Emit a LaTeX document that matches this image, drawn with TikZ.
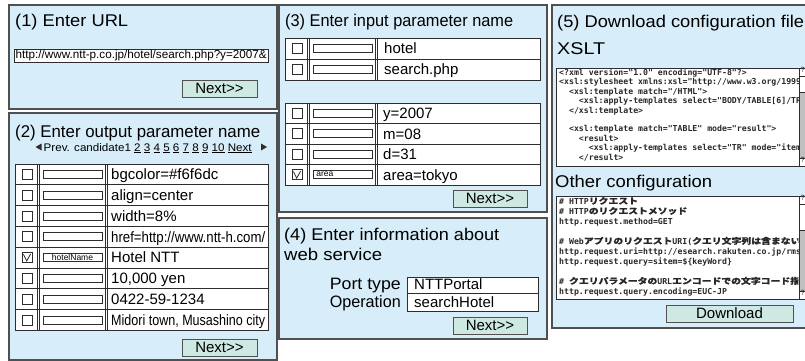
\documentclass[tikz,border=0pt]{standalone}
\usepackage{fontspec}
\usepackage{graphicx}
\setmainfont{Liberation Sans}
\setmonofont{DejaVu Sans Mono}
\newfontfamily\jpfont[FakeStretch=1.2,FakeBold=0.4]{Noto Sans CJK JP}
\newcommand\jtxt[1]{{\jpfont #1}}
\newcommand\setfs[1]{\fontsize{#1}{#1}\selectfont}
\newcommand\wfit[2]{\resizebox{#1pt}{\height}{#2}}
\newcommand\nextlabel{Next>{}>}

\definecolor{panelbg}{RGB}{215,237,249}
\definecolor{panelline}{RGB}{80,80,80}
\definecolor{btnbg}{RGB}{205,233,225}
\definecolor{gridline}{RGB}{45,45,45}
\definecolor{codeink}{RGB}{40,40,40}
\definecolor{scrollgray}{RGB}{192,192,192}

\tikzset{
  panel/.style={draw=panelline, line width=1.3pt, fill=panelbg},
  heading/.style={anchor=base west, inner sep=0, font=\setfs{17}},
  btn/.style={draw=panelline, line width=1pt, fill=btnbg, inner sep=0, font=\setfs{15}, minimum height=17},
  gridln/.style={draw=gridline, line width=0.9pt},
  cbox/.style={draw=gridline, line width=0.8pt, fill=white, minimum size=10, inner sep=0},
  pfield/.style={draw=gridline, line width=0.8pt, fill=white, minimum width=59, minimum height=8, inner sep=0},
  celltext/.style={anchor=base west, inner sep=0, font=\setfs{15}},
  wfield/.style={draw=gridline, line width=0.9pt, fill=white, inner sep=0, anchor=north west},
  label/.style={anchor=base east, inner sep=0, font=\setfs{16.5}},
  code/.style={anchor=base west, inner sep=0, text=codeink, font=\ttfamily\bfseries\setfs{8.2}},
  chk/.style={draw=gridline, line width=0.8pt},
  scrollq/.style={anchor=north west, inner sep=0, font=\setfs{7.5}, text=gridline},
}

% parameter table grid: left, top, width, row height, rows
\newcommand\paramgrid[5]{%
  \pgfmathsetmacro\gridbot{#2+#4*#5}%
  \pgfmathsetmacro\gridright{#1+#3}%
  \draw[gridln, fill=white] (#1,#2) rectangle (\gridright,\gridbot);
  \foreach \k in {1,...,#5}{\ifnum\k<#5 \draw[gridln] (#1,{#2+#4*\k}) -- (\gridright,{#2+#4*\k});\fi}
  \foreach \dx in {22.5,24.5,90.5,92.5}{\draw[gridln] ({#1+\dx},#2) -- ({#1+\dx},\gridbot);}
}
% one table row: left, row top, row height, id, value text, value indent
\newcommand\paramrow[6]{%
  \pgfmathsetmacro\rowmid{#2+#3/2}%
  \node[cbox] (box#4) at ({#1+12},\rowmid) {};
  \node[pfield] (fld#4) at ({#1+57.5},\rowmid) {};
  \node[celltext] (val#4) at ({#1+#6},{\rowmid+5.3}) {#5};
}
\newcommand\tickmark[1]{%
  \draw[chk] ([shift={(-3.6,-3.2)}]#1.center) -- ([shift={(-0.3,3.4)}]#1.center) -- ([shift={(3.6,-3.6)}]#1.center);}
\newcommand\codeln[3]{\node[code] (#1) at (559,#2) {#3};}

\begin{document}
\begin{tikzpicture}[x=1pt,y=-1pt]
\useasboundingbox (0,0) rectangle (805,361);
\clip (0,0) rectangle (805,361);
\fill[white] (0,0) rectangle (805,361);

% ---------- (1) URL
\draw[panel] (9,5) rectangle (277,109);
\node[heading] (h1) at (15,27) {\wfit{113}{(1) Enter URL}};
\node[wfield, minimum width=254, minimum height=13] (urlbox) at (14,49) {};
\node[anchor=base west, inner sep=0, font=\setfs{11.7}] (urltext) at (15.5,59)
  {\wfit{251}{http://www.ntt-p.co.jp/hotel/search.php?y=2007\&}};
\node[btn, minimum width=75] (next1) at (219.5,88.5) {\nextlabel};

% ---------- (2) output parameters
\draw[panel] (9,113) rectangle (277,360);
\node[heading] (h2) at (15,137) {\wfit{245}{(2) Enter output parameter name}};
\fill[gridline] (41.5,143.5) -- (35.5,147) -- (41.5,150.5) -- cycle;
\node[anchor=base west, inner sep=0, font=\setfs{11}] (pager) at (43.5,151)
  {\wfit{208}{Prev. candidate1 \underline{2} \underline{3} \underline{4} \underline{5} \underline{6} \underline{7} \underline{8} \underline{9} \underline{10} \underline{Next}}};
\fill[gridline] (261,143.5) -- (267,147) -- (261,150.5) -- cycle;

\paramgrid{15}{164}{253}{20.8}{8}
\paramrow{15}{164}{20.8}{a1}{bgcolor=\#f6f6dc}{96}
\paramrow{15}{184.8}{20.8}{a2}{align=center}{96}
\paramrow{15}{205.6}{20.8}{a3}{width=8\%}{96}
\paramrow{15}{226.4}{20.8}{a4}{\wfit{154}{href=http://www.ntt-h.com/}}{96}
\paramrow{15}{247.2}{20.8}{a5}{Hotel NTT}{96}
\paramrow{15}{268}{20.8}{a6}{10,000 yen}{96}
\paramrow{15}{288.8}{20.8}{a7}{0422-59-1234}{96}
\paramrow{15}{309.6}{20.8}{a8}{\wfit{154}{Midori town, Musashino city}}{96}
\tickmark{boxa5}
\node[inner sep=0, font=\setfs{8.5}] (fldtxta5) at (flda5.center) {hotelName};
\node[btn, minimum width=75] (next2) at (219.5,347.5) {\nextlabel};

% ---------- (3) input parameters
\draw[panel] (279,5) rectangle (547,212);
\node[heading] (h3) at (285,27) {\wfit{228}{(3) Enter input parameter name}};
\paramgrid{285}{38}{255}{21}{2}
\paramrow{285}{38}{21}{b1}{hotel}{99}
\paramrow{285}{59}{21}{b2}{search.php}{99}
\paramgrid{285}{103}{255}{20.5}{4}
\paramrow{285}{103}{20.5}{c1}{y=2007}{98}
\paramrow{285}{123.5}{20.5}{c2}{m=08}{98}
\paramrow{285}{144}{20.5}{c3}{d=31}{98}
\paramrow{285}{164.5}{20.5}{c4}{area=tokyo}{98}
\tickmark{boxc4}
\node[anchor=west, inner sep=0, font=\setfs{8.5}] (fldtxtc4) at ([xshift=3.5pt]fldc4.west) {area};
\node[btn, minimum width=74] (next3) at (490,198.5) {\nextlabel};

% ---------- (4) web service
\draw[panel] (279,218) rectangle (547,339);
\node[heading] (h4a) at (284,240) {\wfit{215}{(4) Enter information about}};
\node[heading] (h4b) at (284,260) {\wfit{98}{web service}};
\node[label] (lport) at (401,289) {\wfit{71}{Port type}};
\node[label] (lop) at (401,307) {\wfit{71}{Operation}};
\node[wfield, minimum width=131, minimum height=16] (portbox) at (407,277) {};
\node[wfield, minimum width=131, minimum height=18] (opbox) at (407,293) {};
\node[celltext] (porttxt) at (414,289) {NTTPortal};
\node[celltext] (optxt) at (414,307) {searchHotel};
\node[btn, minimum width=74] (next4) at (490,325.5) {\nextlabel};

% ---------- (5) configuration download
\draw[panel] (552,5) rectangle (815,328);
\node[heading] (h5) at (557,28) {\wfit{247}{(5) Download configuration file}};
\node[heading] (hx) at (557,55) {\wfit{48}{XSLT}};

\draw[gridln, fill=white] (556,68) rectangle (799,166);
\draw[gridln, fill=scrollgray] (799,68) rectangle (812,166);
\draw[gridln, fill=white] (799,76) rectangle (812,92);
\draw[gridln, fill=white] (799,68) rectangle (812,76);
\draw[gridln, fill=white] (799,158) rectangle (812,166);
\node[scrollq] (qx1) at (800.5,67.5) {?};
\node[scrollq] (qx2) at (800.5,157.5) {?};

\begin{scope}
\clip (557,69) rectangle (798.4,165);
\codeln{xs1}{75.5}{<?xml version="1.0" encoding="UTF-8"?>}
\codeln{xs2}{84.9}{<xsl:stylesheet xmlns:xsl="http://www.w3.org/1999/XSL/Transform" version="1.0">}
\codeln{xs3}{94.3}{\phantom{00}<xsl:template match="/HTML">}
\codeln{xs4}{103.7}{\phantom{0000}<xsl:apply-templates select="BODY/TABLE[6]/TR/TD/TABLE" mode="result"/>}
\codeln{xs5}{113.1}{\phantom{00}</xsl:template>}
\codeln{xs7}{131.9}{\phantom{00}<xsl:template match="TABLE" mode="result">}
\codeln{xs8}{141.3}{\phantom{0000}<result>}
\codeln{xs9}{150.7}{\phantom{000000}<xsl:apply-templates select="TR" mode="item"/>}
\codeln{xs10}{160.1}{\phantom{0000}</result>}
\end{scope}

\node[heading] (ho) at (555,187) {\wfit{157}{Other configuration}};

\draw[gridln, fill=white] (556,196) rectangle (799,299);
\draw[gridln, fill=scrollgray] (799,196) rectangle (812,299);
\draw[gridln, fill=white] (799,204) rectangle (812,230);
\draw[gridln, fill=white] (799,196) rectangle (812,204);
\draw[gridln, fill=white] (799,291) rectangle (812,299);
\node[scrollq] (qc1) at (800.5,195.5) {?};
\node[scrollq] (qc2) at (800.5,290.5) {?};

\begin{scope}
\clip (557,197) rectangle (798.4,298);
\codeln{cf1}{204}{\# HTTP\jtxt{リクエスト}}
\codeln{cf2}{214}{\# HTTP\jtxt{のリクエストメソッド}}
\codeln{cf3}{224}{http.request.method=GET}
\codeln{cf5}{244}{\# Web\jtxt{アプリのリクエスト}URI(\jtxt{クエリ文字列は含まない})}
\codeln{cf6}{254}{http.request.uri=http://esearch.rakuten.co.jp/rms/sd/esearch/vc}
\codeln{cf7}{264}{http.request.query=sitem=\$\{keyWord\}}
\codeln{cf9}{284}{\# \jtxt{クエリパラメータの}URL\jtxt{エンコードでの文字コード指定}}
\codeln{cf10}{294}{http.request.query.encoding=EUC-JP}
\end{scope}

\node[btn, minimum width=127] (download) at (729.5,313.5) {Download};
\end{tikzpicture}
\end{document}
